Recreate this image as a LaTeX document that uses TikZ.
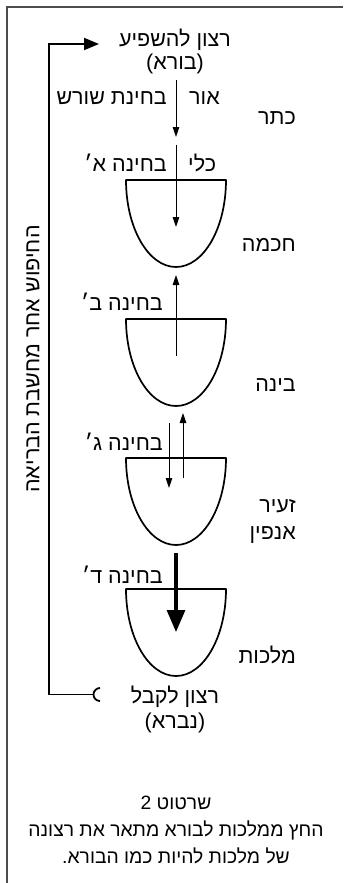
\documentclass[tikz,border=0pt]{standalone}
\usepackage{fontspec}
\usetikzlibrary{arrows.meta}
\TeXXeTstate=1
\newfontfamily\heb[Script=Hebrew]{Liberation Sans}
\newcommand{\hebline}[1]{\beginR #1\endR}
\begin{document}
\begin{tikzpicture}[x=1pt,y=-1pt,
  lbl/.style={font=\heb\fontsize{21.5}{24}\selectfont, inner sep=0pt},
  captext/.style={font=\heb\fontsize{19.3}{27}\selectfont, inner sep=0pt, align=center},
  frameline/.style={draw=black!70, line width=1.1pt},
  vesselline/.style={draw=black, line width=1.7pt, line join=round},
  thinarrow/.style={line width=0.9pt, -{Triangle[width=6.5pt,length=10pt]}},
  thickarrow/.style={line width=3.2pt, -{Triangle[width=18pt,length=22pt]}},
  backarrow/.style={line width=1.8pt, -{Triangle[width=12pt,length=15pt]}},
  vessel/.pic={\path[vesselline] (-50,0) -- (50,0) arc[start angle=0, end angle=180, x radius=50, y radius=87] -- cycle;}
]
\useasboundingbox (0,0) rectangle (343,883);
\draw[frameline] (7,883) -- (7,7) -- (343,7);

% vessels
\pic at (176,180) {vessel};
\pic at (176,319) {vessel};
\pic at (176,458) {vessel};
\pic at (176,589) {vessel};

% top and bottom labels
\node[lbl, align=center, font=\heb\fontsize{21.5}{23}\selectfont] (give) at (175,51) {\hebline{רצון להשפיע}\\\hebline{(בורא)}};
\node[lbl, align=center, font=\heb\fontsize{21.5}{25}\selectfont] (receive) at (175,709) {\hebline{רצון לקבל}\\\hebline{(נברא)}};

% side labels
\node[lbl, anchor=east] (keter) at (296,118) {\hebline{כתר}};
\node[lbl, anchor=east] (chochma) at (296,245) {\hebline{חכמה}};
\node[lbl, anchor=east] (bina) at (296,385) {\hebline{בינה}};
\node[lbl, anchor=east, align=right, font=\heb\fontsize{21.5}{27}\selectfont] (za) at (296,521) {\hebline{זעיר}\\\hebline{אנפין}};
\node[lbl, anchor=east] (malchut) at (296,655) {\hebline{מלכות}};

% arrow labels
\node[lbl, anchor=west] (or) at (189,98) {\hebline{אור}};
\node[lbl, anchor=east] (shoresh) at (167,98) {\hebline{בחינת שורש}};
\node[lbl, anchor=west] (kli) at (188,163) {\hebline{כלי}};
\node[lbl, anchor=east] (alef) at (167,163) {\hebline{בחינה א׳}};
\node[lbl, anchor=east] (bet) at (163,302) {\hebline{בחינה ב׳}};
\node[lbl, anchor=east] (gimel) at (163,442) {\hebline{בחינה ג׳}};
\node[lbl, anchor=east] (dalet) at (163,575) {\hebline{בחינה ד׳}};

% vertical label
\node[lbl, rotate=90] (search) at (33,359) {\hebline{החיפוש אחר מחשבת הבריאה}};

% caption
\node[captext] (caption) at (176,830) {\hebline{שרטוט 2}\\\hebline{החץ ממלכות לבורא מתאר את רצונה}\\\hebline{של מלכות להיות כמו הבורא.}};

% arrow coordinates
\coordinate (a1s) at (176,80);  \coordinate (a1e) at (176,137);
\coordinate (a2s) at (176,145); \coordinate (a2e) at (176,227);
\coordinate (a3s) at (176,356); \coordinate (a3e) at (176,275);
\coordinate (a4s) at (169,423); \coordinate (a4e) at (169,488);
\coordinate (a5s) at (183,478); \coordinate (a5e) at (183,413);
\coordinate (a6s) at (176,553); \coordinate (a6e) at (176,632);
\coordinate (bs) at (93.5,694.5); \coordinate (bl) at (49,694.5);
\coordinate (tl) at (49,44); \coordinate (te) at (99,44);
\coordinate (cc) at (100,694.5);

\draw[thinarrow] (a1s) -- (a1e);
\draw[thinarrow] (a2s) -- (a2e);
\draw[thinarrow] (a3s) -- (a3e);
\draw[thinarrow] (a4s) -- (a4e);
\draw[thinarrow] (a5s) -- (a5e);
\draw[thickarrow] (a6s) -- (a6e);
\draw[backarrow] (bs) -- (bl) -- (tl) -- (te);
\draw[line width=1.8pt] (cc) ++(0,6.5) arc[start angle=90, end angle=270, radius=6.5];
\end{tikzpicture}
\end{document}
